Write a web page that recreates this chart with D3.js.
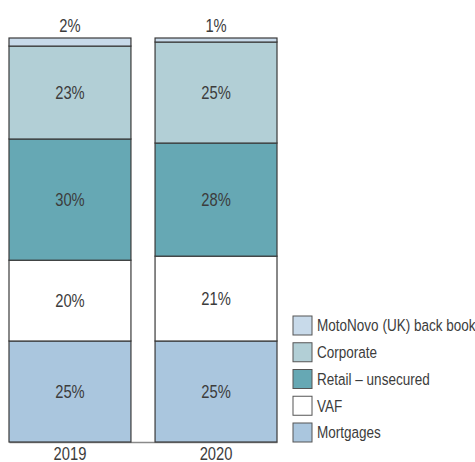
<!DOCTYPE html>
<html>
<head>
<meta charset="utf-8">
<script src="https://cdn.jsdelivr.net/npm/d3@7"></script>
<style>
  html, body { margin: 0; padding: 0; background: #fff; }
  svg { display: block; font-family: "Liberation Sans", Arial, sans-serif; }
  text { fill: #3c3c3c; }
</style>
</head>
<body>
<svg id="chart" width="475" height="462"></svg>
<script>
// Loan book composition by year (% of total), bottom to top
const years = ["2019", "2020"];
const segments = ["Mortgages", "VAF", "Retail – unsecured", "Corporate", "MotoNovo (UK) back book"];
const mortgages = [25, 25];
const vaf = [20, 21];
const retailUnsecured = [30, 28];
const corporate = [23, 25];
const motoNovo = [2, 1];
const colors = ["#aac6de", "#ffffff", "#66a8b4", "#b2cfd6", "#c8daea"];
const legendOrder = ["MotoNovo (UK) back book", "Corporate", "Retail – unsecured", "VAF", "Mortgages"];

const seriesValues = [mortgages, vaf, retailUnsecured, corporate, motoNovo];
const rows = years.map((y, i) => {
  const r = { year: y };
  segments.forEach((s, j) => { r[s] = seriesValues[j][i]; });
  return r;
});

// Condensed look: horizontally squeeze the sans-serif glyphs
const SQUEEZE = 0.82;

const svg = d3.select("#chart");
const x = d3.scaleBand().domain(years).range([9, 277]).paddingInner(0.165).paddingOuter(0);
const yScale = d3.scaleLinear().domain([0, 100]).range([442, 38]);
const color = d3.scaleOrdinal().domain(segments).range(colors);

const stacked = d3.stack().keys(segments)(rows);

// Baseline and year labels
const xAxis = svg.append("g").attr("transform", "translate(0,442)")
  .call(d3.axisBottom(x).tickSize(0).tickPadding(5));
xAxis.select(".domain").attr("stroke", "#8a8a8a").attr("stroke-width", 1.6);
xAxis.selectAll("text")
  .attr("font-size", 18)
  .attr("font-family", "'Liberation Sans', Arial, sans-serif")
  .attr("fill", "#3c3c3c")
  .attr("transform", `scale(${SQUEEZE},1)`);

const layers = svg.append("g").selectAll("g")
  .data(stacked).join("g")
  .attr("fill", d => color(d.key));

layers.selectAll("rect")
  .data(d => d.map(v => Object.assign({ key: d.key }, v)))
  .join("rect")
  .attr("x", d => x(d.data.year))
  .attr("width", x.bandwidth())
  .attr("y", d => yScale(d[1]))
  .attr("height", d => yScale(d[0]) - yScale(d[1]))
  .attr("stroke", "#3a3a3a")
  .attr("stroke-width", 1.2);

// Value labels: inside the segment, or above the bar for the thin top segment
const labels = [];
stacked.forEach(layer => {
  layer.forEach(v => {
    const val = v[1] - v[0];
    const isTop = layer.key === "MotoNovo (UK) back book";
    labels.push({
      year: v.data.year,
      text: val + "%",
      y: isTop ? yScale(v[1]) - 6 : yScale((v[0] + v[1]) / 2),
      dy: isTop ? "0" : "0.36em"
    });
  });
});

svg.append("g").selectAll("text")
  .data(labels).join("text")
  .attr("transform", d => `translate(${x(d.year) + x.bandwidth() / 2},${d.y}) scale(${SQUEEZE},1)`)
  .attr("dy", d => d.dy)
  .attr("text-anchor", "middle")
  .attr("font-size", 18)
  .text(d => d.text);

// Legend
const legendY = d3.scalePoint().domain(legendOrder).range([316, 423]);
const item = svg.append("g").selectAll("g").data(legendOrder).join("g")
  .attr("transform", d => `translate(293,${legendY(d)})`);
item.append("rect")
  .attr("width", 19).attr("height", 19)
  .attr("fill", d => color(d))
  .attr("stroke", "#555").attr("stroke-width", 1);
item.append("text")
  .attr("transform", `translate(24,9.5) scale(${SQUEEZE},1)`)
  .attr("dy", "0.36em")
  .attr("font-size", 16.5)
  .text(d => d);
</script>
</body>
</html>
